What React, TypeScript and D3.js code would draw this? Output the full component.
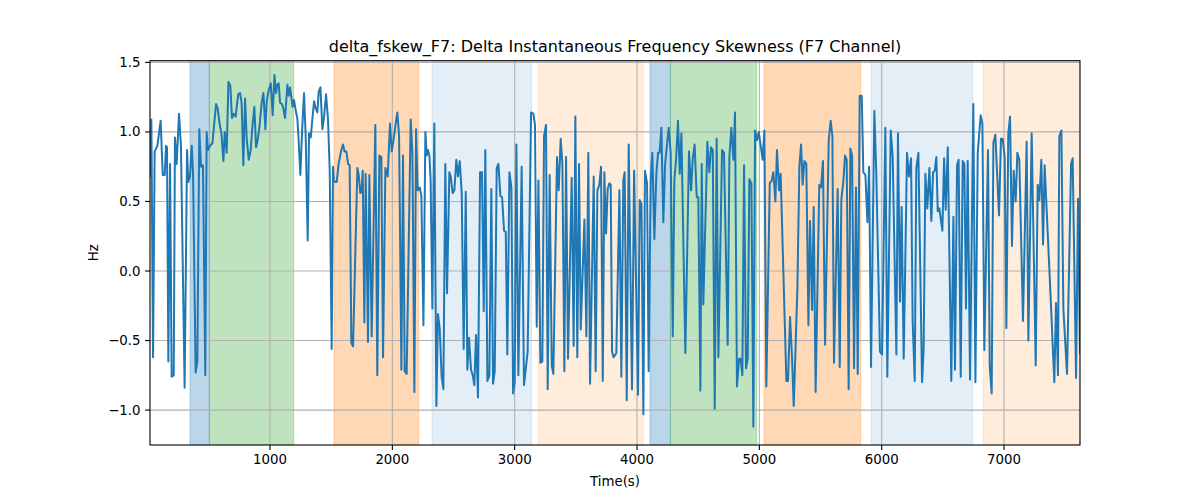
import React from "react";
import * as d3 from "d3";

const TITLE = "delta_fskew_F7: Delta Instantaneous Frequency Skewness (F7 Channel)";
const X_LABEL = "Time(s)";
const Y_LABEL = "Hz";

const xTicks = [1000, 2000, 3000, 4000, 5000, 6000, 7000];
const yTicks = [-1.0, -0.5, 0.0, 0.5, 1.0, 1.5];

// shaded spans: [start, end, kind]
const spanStarts = [346, 504, 1523, 2324, 3191, 4106, 4273, 5038, 5913, 6829];
const spanEnds = [504, 1193, 2215, 3139, 4049, 4273, 4978, 5828, 6744, 7621];
const spanKinds = ["blue", "green", "orange", "lightblue", "lightorange", "blue", "green", "orange", "lightblue", "lightorange"];

const times = [
  19, 30, 44, 57, 79, 106, 123, 139, 150, 158, 169, 183, 196, 213, 223, 237, 256, 272, 302, 322,
  332, 346, 360, 371, 392, 406, 422, 436, 452, 471, 482, 493, 510, 529, 559, 572, 591, 602, 619, 630,
  646, 660, 676, 689, 703, 719, 740, 755, 768, 782, 796, 809, 826, 842, 858, 872, 886, 897, 913, 932,
  946, 962, 973, 989, 1006, 1022, 1036, 1049, 1060, 1071, 1082, 1098, 1109, 1123, 1142, 1153, 1164, 1177, 1185, 1196,
  1207, 1224, 1234, 1248, 1262, 1278, 1292, 1308, 1319, 1333, 1349, 1360, 1373, 1387, 1398, 1412, 1428, 1442, 1458, 1474,
  1488, 1504, 1515, 1522, 1534, 1545, 1561, 1583, 1597, 1608, 1624, 1638, 1651, 1665, 1679, 1714, 1725, 1738, 1747, 1758,
  1771, 1782, 1801, 1812, 1831, 1861, 1877, 1894, 1910, 1924, 1943, 1962, 1981, 1995, 2014, 2027, 2041, 2055, 2074, 2087,
  2101, 2117, 2150, 2164, 2180, 2194, 2207, 2224, 2237, 2254, 2270, 2281, 2292, 2303, 2313, 2327, 2343, 2360, 2373, 2387,
  2403, 2417, 2433, 2447, 2466, 2477, 2493, 2507, 2523, 2537, 2551, 2567, 2583, 2600, 2613, 2627, 2643, 2657, 2670, 2684,
  2700, 2717, 2733, 2747, 2760, 2777, 2793, 2809, 2823, 2837, 2853, 2867, 2883, 2897, 2913, 2927, 2940, 2957, 2973, 2987,
  3000, 3014, 3030, 3057, 3076, 3106, 3134, 3153, 3166, 3180, 3194, 3210, 3226, 3240, 3256, 3270, 3286, 3303, 3316, 3346,
  3360, 3376, 3390, 3406, 3420, 3436, 3466, 3482, 3496, 3512, 3526, 3540, 3570, 3586, 3602, 3616, 3646, 3662, 3676, 3692,
  3706, 3720, 3733, 3747, 3760, 3774, 3785, 3796, 3809, 3831, 3856, 3872, 3888, 3899, 3916, 3932, 3959, 3976, 4008, 4022,
  4036, 4052, 4065, 4082, 4095, 4112, 4125, 4142, 4158, 4172, 4185, 4199, 4215, 4229, 4243, 4259, 4275, 4292, 4305, 4319,
  4335, 4349, 4363, 4395, 4425, 4442, 4455, 4471, 4488, 4501, 4518, 4529, 4542, 4575, 4591, 4605, 4619, 4635, 4651, 4665,
  4695, 4711, 4741, 4755, 4771, 4788, 4801, 4817, 4834, 4847, 4861, 4875, 4891, 4905, 4918, 4935, 4951, 4965, 4981, 4995,
  5008, 5027, 5041, 5057, 5085, 5101, 5114, 5131, 5144, 5161, 5174, 5221, 5234, 5251, 5267, 5281, 5311, 5327, 5341, 5354,
  5368, 5384, 5401, 5414, 5431, 5444, 5460, 5490, 5504, 5520, 5537, 5567, 5583, 5597, 5610, 5640, 5657, 5670, 5687, 5700,
  5714, 5730, 5744, 5758, 5774, 5790, 5804, 5820, 5837, 5850, 5867, 5883, 5897, 5913, 5940, 5956, 5986, 6003, 6030, 6046,
  6074, 6090, 6120, 6133, 6150, 6163, 6180, 6207, 6223, 6240, 6253, 6270, 6283, 6300, 6330, 6343, 6357, 6373, 6390, 6406,
  6420, 6433, 6447, 6458, 6471, 6496, 6510, 6523, 6540, 6569, 6586, 6599, 6616, 6629, 6646, 6662, 6676, 6689, 6703, 6722,
  6749, 6766, 6785, 6809, 6823, 6839, 6869, 6883, 6899, 6913, 6929, 6959, 6975, 6989, 7005, 7019, 7035, 7049, 7065, 7079,
  7095, 7109, 7125, 7155, 7185, 7199, 7226, 7259, 7275, 7289, 7305, 7319, 7332, 7381, 7411, 7425, 7441, 7452, 7469, 7485,
  7515, 7548, 7561, 7589, 7605, 7621,
];

const values = [
  0.68, 1.09, -0.62, 0.86, 0.9, 1.08, 0.69, 0.69, 0.9, 0.89, -0.65, 0.77, -0.76, -0.75, 0.96, 0.77, 1.13, 0.9, -0.84, 0.87,
  0.64, 0.68, 0.9, 0.7, -0.73, -0.65, 1.02, 0.75, 0.76, -0.75, 1.0, 0.87, 0.9, 0.92, 1.2, 1.17, 1.04, 1.0, 0.79, 1.0,
  0.85, 1.36, 1.33, 1.1, 1.13, 1.11, 1.27, 1.28, 1.21, 0.76, 1.24, 0.96, 0.8, 0.87, 1.06, 1.18, 0.89, 0.93, 1.03, 1.21,
  1.28, 1.02, 1.22, 1.3, 1.35, 1.12, 1.41, 1.28, 1.34, 1.35, 1.21, 1.2, 1.17, 1.1, 1.34, 1.26, 1.32, 1.23, 1.18, 1.23,
  1.17, 1.09, 0.94, 0.69, 1.0, 1.28, 0.96, 0.22, 0.99, 0.96, 1.12, 1.22, 1.17, 1.14, 1.29, 1.32, 1.02, 1.11, 1.27, 1.09,
  0.73, -0.56, 0.75, 0.65, 0.64, 0.64, 0.77, 0.87, 0.91, 0.86, 0.86, 0.77, 0.76, -0.52, -0.54, 0.74, 0.69, 0.56, 0.57, 0.72,
  -0.37, 0.7, -0.51, 0.69, -0.47, 1.05, -0.75, 0.83, 0.82, -0.62, 0.74, 0.68, 1.06, 0.86, 0.97, 1.06, 1.14, 0.97, -0.71, 0.83,
  -0.72, -0.74, 1.09, 0.85, -0.87, 1.02, 0.58, 0.6, 0.54, -0.39, 1.0, 0.83, 0.87, 0.83, 0.65, -0.27, 1.06, -0.97, -0.31, -0.41,
  -0.76, -0.85, 0.77, -0.16, 0.71, 0.68, 0.56, 0.58, 0.8, 0.68, 0.79, 0.56, -0.56, 0.57, -0.71, -0.48, -0.71, -0.75, -0.82, -0.46,
  -0.91, 0.71, 0.71, -0.29, 0.87, -0.79, -0.75, 0.59, -0.81, -0.72, 0.74, 0.77, 0.54, 0.53, 0.29, 0.28, -0.6, 0.71, 0.6, -0.88,
  -0.8, 0.91, -0.75, 0.75, -0.82, -0.58, 1.14, 1.13, 1.05, -0.4, 0.65, -0.66, -0.65, 0.97, 1.05, -0.85, 0.69, -0.68, -0.74, 0.82,
  0.58, 0.95, 0.77, -0.72, 0.82, -0.63, 0.67, -0.54, 1.11, -0.62, 0.77, -0.42, 0.37, -0.47, 0.85, -0.81, 0.68, -0.72, 0.58, 0.62,
  0.75, -0.79, 0.71, 0.27, 0.59, 0.63, 0.62, -0.58, -0.62, -0.59, 0.58, -0.76, 0.65, 0.71, -0.93, 0.91, -0.85, 0.72, -0.89, 0.51,
  0.48, -1.03, 0.72, 0.63, -0.72, 0.65, 0.85, 0.23, 0.7, 0.85, 0.85, 1.03, 0.35, 0.76, 0.89, 1.03, 0.85, -0.47, 0.65, 0.8,
  1.08, 0.7, 0.99, -0.59, 0.86, 0.58, 0.8, 0.91, 0.53, 0.53, -0.86, 0.77, -0.24, 0.93, 0.71, 0.89, 0.87, -0.99, 0.95, -0.62,
  0.87, 0.85, -0.53, 0.82, 1.03, 0.8, 1.14, -0.83, -0.63, -0.63, -0.75, 0.76, -0.7, -0.63, 0.66, 0.63, -1.12, 1.01, 0.94, 1.0,
  0.92, 0.8, 1.01, -0.83, 0.63, 0.65, 0.71, 0.5, 0.87, 0.58, 0.7, -0.79, -0.79, -0.33, -0.62, -0.97, -0.12, 0.75, 0.91, 0.62,
  0.79, 0.77, -0.39, 0.36, -0.28, 0.46, -0.87, 0.62, 0.6, 0.79, -0.53, 0.94, 1.08, 0.97, -0.66, 0.59, -0.69, 0.51, 0.65, 0.83,
  0.8, -0.85, 0.88, 0.83, -0.7, 0.6, -0.74, 1.26, 1.26, 0.71, 0.69, 0.35, 0.75, -0.69, 1.15, 0.7, -0.58, -0.6, 1.03, -0.76,
  1.01, 0.82, -0.6, 0.99, -0.22, 0.46, -0.63, 0.85, 0.68, 0.81, -0.36, -0.79, 0.74, 0.85, -0.8, -0.56, 0.7, 0.45, 0.74, 0.36,
  0.71, 0.72, 0.82, 0.43, 0.45, 0.29, 0.81, 0.44, 0.89, -0.79, 0.39, -0.71, 0.76, 0.8, -0.76, 0.79, 0.77, -0.27, 0.79, -0.78,
  1.2, -0.8, 0.85, 1.12, 1.06, -0.57, 0.87, -0.68, -0.88, 0.92, 0.98, 0.4, 0.95, 0.95, 0.82, -0.41, 0.99, 1.11, 0.18, 0.72,
  0.5, 0.85, 0.8, -0.36, 0.93, -0.5, 0.99, -0.68, 0.62, 0.51, 0.8, 0.19, 0.76, -0.19, -0.8, -0.23, -0.75, 0.97, 1.01, -0.27,
  -0.74, 0.77, 0.81, -0.77, 0.52, -0.59,
];

const spanStyle: Record<string, { color: string; opacity: number }> = {
  blue: { color: "#1f77b4", opacity: 0.3 },
  green: { color: "#2ca02c", opacity: 0.3 },
  orange: { color: "#ff7f0e", opacity: 0.3 },
  lightblue: { color: "#1f77b4", opacity: 0.12 },
  lightorange: { color: "#ff7f0e", opacity: 0.15 },
};

const W = 1200;
const H = 500;
const M = { left: 150, right: 1080, top: 60.7, bottom: 445 };
const FONT = "DejaVu Sans, sans-serif";

export default function App() {
  const x = d3.scaleLinear().domain([19, 7621]).range([M.left, M.right]);
  const y = d3.scaleLinear().domain([-1.251, 1.512]).range([M.bottom, M.top]);
  const pts = times.map((t, i) => [t, values[i]] as [number, number]);
  const line = d3
    .line<[number, number]>()
    .x((d) => x(d[0]))
    .y((d) => y(d[1]));
  const fmtY = (v: number) => (v < 0 ? "\u2212" + Math.abs(v).toFixed(1) : v.toFixed(1));

  return (
    <svg
      width={W}
      height={H}
      style={{ position: "absolute", left: 0, top: 0, background: "#fff" }}
      fontFamily={FONT}
    >
      <rect x={0} y={0} width={W} height={H} fill="#fff" />
      <defs>
        <clipPath id="plotclip">
          <rect x={M.left} y={M.top} width={M.right - M.left} height={M.bottom - M.top} />
        </clipPath>
      </defs>
      <g clipPath="url(#plotclip)">
        {spanStarts.map((s, i) => {
          const st = spanStyle[spanKinds[i]];
          return (
            <rect
              key={"sp" + i}
              x={x(s)}
              y={M.top}
              width={x(spanEnds[i]) - x(s)}
              height={M.bottom - M.top}
              fill={st.color}
              fillOpacity={st.opacity}
              stroke={st.color}
              strokeOpacity={st.opacity}
              strokeWidth={1}
            />
          );
        })}
        {xTicks.map((t) => (
          <line key={"gx" + t} x1={x(t)} x2={x(t)} y1={M.top} y2={M.bottom} stroke="#b0b0b0" strokeWidth={1.1} />
        ))}
        {yTicks.map((t) => (
          <line key={"gy" + t} x1={M.left} x2={M.right} y1={y(t)} y2={y(t)} stroke="#b0b0b0" strokeWidth={1.1} />
        ))}
        <path d={line(pts) || ""} fill="none" stroke="#1f77b4" strokeWidth={2} strokeLinejoin="round" strokeLinecap="square" />
      </g>
      <rect
        x={M.left}
        y={M.top}
        width={M.right - M.left}
        height={M.bottom - M.top}
        fill="none"
        stroke="#000"
        strokeWidth={1.1}
      />
      {xTicks.map((t) => (
        <g key={"xt" + t}>
          <line x1={x(t)} x2={x(t)} y1={M.bottom} y2={M.bottom + 4.9} stroke="#000" strokeWidth={1.1} />
          <text x={x(t)} y={M.bottom + 9.5} textAnchor="middle" dominantBaseline="hanging" fontSize={13.33} fill="#000">
            {t}
          </text>
        </g>
      ))}
      {yTicks.map((t) => (
        <g key={"yt" + t}>
          <line x1={M.left - 4.9} x2={M.left} y1={y(t)} y2={y(t)} stroke="#000" strokeWidth={1.1} />
          <text x={M.left - 9.5} y={y(t)} textAnchor="end" dominantBaseline="central" fontSize={13.33} fill="#000">
            {fmtY(t)}
          </text>
        </g>
      ))}
      <text x={(M.left + M.right) / 2} y={51.5} textAnchor="middle" fontSize={16} fill="#000">
        {TITLE}
      </text>
      <text x={(M.left + M.right) / 2} y={486} textAnchor="middle" fontSize={13.33} fill="#000">
        {X_LABEL}
      </text>
      <text
        transform={`translate(98, ${(M.top + M.bottom) / 2}) rotate(-90)`}
        textAnchor="middle"
        fontSize={13.33}
        fill="#000"
      >
        {Y_LABEL}
      </text>
    </svg>
  );
}
